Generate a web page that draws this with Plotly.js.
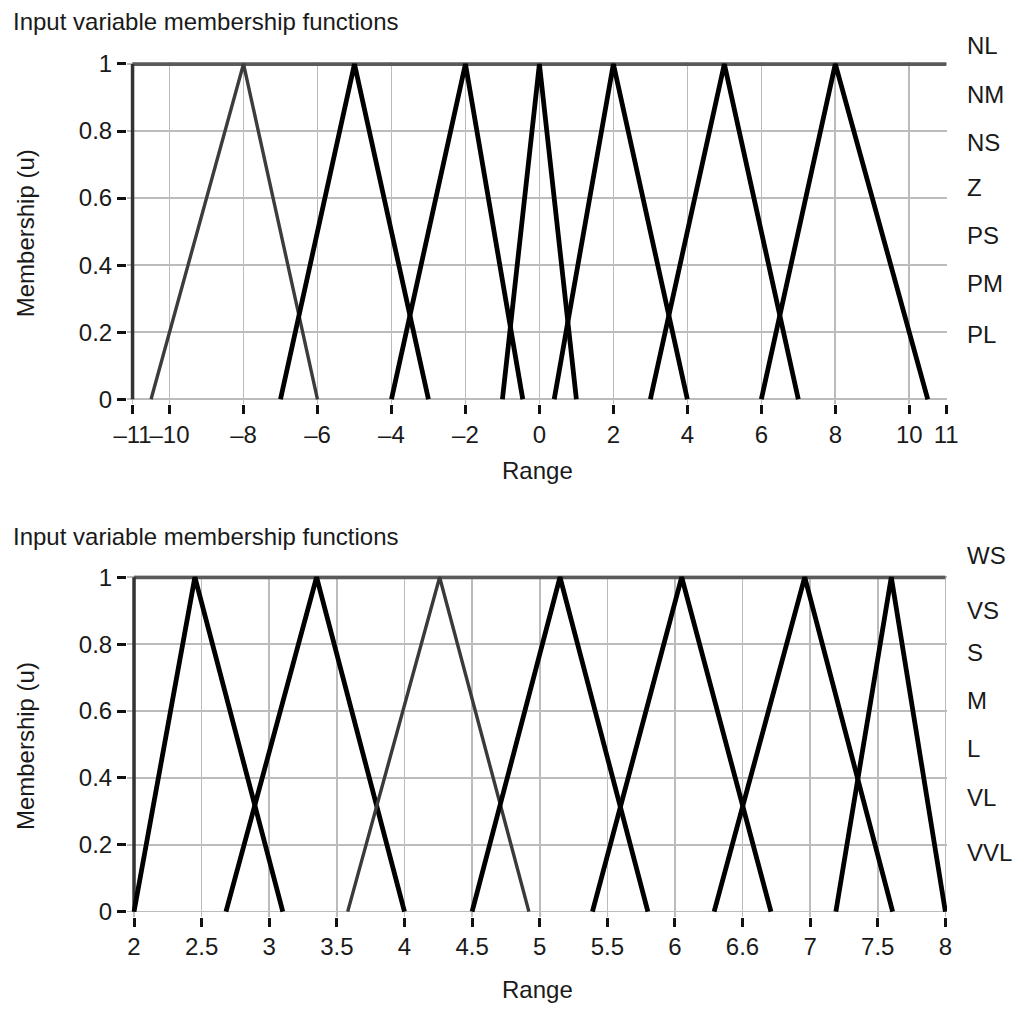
<!DOCTYPE html>
<html>
<head>
<meta charset="utf-8">
<script src="https://cdn.plot.ly/plotly-3.0.1.min.js"></script>
<style>html,body{margin:0;padding:0;background:#fff;}#chart{width:1020px;height:1011px;}</style>
</head>
<body>
<div id="chart"></div>
<script>
// ---------- DATA ----------
// Top chart: triangular membership functions (left foot, peak, right foot)
const topNames = ['NL', 'NM', 'NS', 'Z', 'PS', 'PM', 'PL'];
const topLeft  = [-10.5, -7, -4, -1, 0.4, 3, 6];
const topPeak  = [-8, -5, -2, 0, 2, 5, 8];
const topRight = [-6, -3, -0.45, 1, 4, 7, 10.5];
const topDomain = [-11, 11];
const topTickVals = [-11, -10, -8, -6, -4, -2, 0, 2, 4, 6, 8, 10, 11];
const topTickText = ['\u201311', '\u201310', '\u20138', '\u20136', '\u20134', '\u20132', '0', '2', '4', '6', '8', '10', '11'];

// Bottom chart
const botNames = ['WS', 'VS', 'S', 'M', 'L', 'VL', 'VVL'];
const botLeft  = [2.0, 2.68, 3.58, 4.5, 5.39, 6.29, 7.19];
const botPeak  = [2.45, 3.35, 4.26, 5.15, 6.05, 6.96, 7.6];
const botRight = [3.1, 4.0, 4.92, 5.8, 6.71, 7.61, 8.0];
const botDomain = [2, 8];
const botTickVals = [2, 2.5, 3, 3.5, 4, 4.5, 5, 5.5, 6, 6.5, 7, 7.5, 8];
const botTickText = ['2', '2.5', '3', '3.5', '4', '4.5', '5', '5.5', '6', '6.6', '7', '7.5', '8'];

const yTickVals = [0, 0.2, 0.4, 0.6, 0.8, 1];
const yTickText = ['0', '0.2', '0.4', '0.6', '0.8', '1'];

const chartTitle = 'Input variable membership functions';
const xTitle = 'Range';
const yTitle = 'Membership (u)';

// ---------- STYLE ----------
const FONT = 'Liberation Sans, Arial, Helvetica, sans-serif';
const TXT = '#1a1a1a';
const H = 1011;
const topStyle = [
  {color: '#3c3c3c', width: 3.4}, {color: '#000', width: 4.8}, {color: '#000', width: 4.8},
  {color: '#000', width: 4.8}, {color: '#000', width: 4.8}, {color: '#000', width: 4.8}, {color: '#000', width: 4.8}
];
const botStyle = [
  {color: '#000', width: 4.8}, {color: '#000', width: 4.8}, {color: '#3a3a3a', width: 3.4},
  {color: '#000', width: 4.8}, {color: '#000', width: 4.8}, {color: '#000', width: 4.8}, {color: '#000', width: 4.8}
];
// label vertical positions (pixels from top) for the right-side names
const topLabelPx = [46, 95, 142, 187, 235, 283, 335];
const botLabelPx = [555, 610, 652, 700, 748, 797, 852];

const traces = [];
function addFrame(dom, xa, ya) {
  traces.push({x: [dom[0], dom[1]], y: [1, 1], xaxis: xa, yaxis: ya, mode: 'lines',
    line: {color: '#5a5a5a', width: 4}, hoverinfo: 'skip', showlegend: false});
  traces.push({x: [dom[0], dom[0]], y: [0, 1], xaxis: xa, yaxis: ya, mode: 'lines',
    line: {color: '#333', width: 3.5}, hoverinfo: 'skip', showlegend: false});
}
function addSet(names, L, P, R, styles, xa, ya) {
  names.forEach((n, i) => {
    traces.push({x: [L[i], P[i], R[i]], y: [0, 1, 0], name: n, xaxis: xa, yaxis: ya,
      mode: 'lines', line: styles[i], showlegend: false});
  });
}
addFrame(topDomain, 'x', 'y');
addSet(topNames, topLeft, topPeak, topRight, topStyle, 'x', 'y');
addFrame(botDomain, 'x2', 'y2');
addSet(botNames, botLeft, botPeak, botRight, botStyle, 'x2', 'y2');

const gridCol = '#bcbcbc';
function xAxis(range, vals, text, anchor) {
  return {range: range, anchor: anchor, domain: [0, 1], tickmode: 'array', tickvals: vals, ticktext: text,
    tickangle: 0,
    showgrid: true, gridcolor: gridCol, gridwidth: 1.6, zeroline: false, showline: false,
    ticks: 'outside', ticklen: 9, tickwidth: 3, tickcolor: '#111',
    tickfont: {family: FONT, size: 24, color: TXT}, automargin: false, fixedrange: true};
}
function yAxis(domain, anchor) {
  return {range: [-0.015, 1.005], domain: domain, anchor: anchor, tickmode: 'array',
    tickvals: yTickVals, ticktext: yTickText,
    showgrid: true, gridcolor: gridCol, gridwidth: 1.6, zeroline: false, showline: false,
    ticks: 'outside', ticklen: 9, tickwidth: 3, tickcolor: '#111',
    tickfont: {family: FONT, size: 24, color: TXT}, automargin: false, fixedrange: true};
}

const annotations = [];
function addAnn(text, x, y, xref, yref, xanchor, extra) {
  annotations.push(Object.assign({text: text, x: x, y: y, xref: xref, yref: yref,
    xanchor: xanchor, yanchor: 'middle', showarrow: false,
    font: {family: FONT, size: 24, color: TXT}}, extra || {}));
}
// titles
addAnn(chartTitle, -0.142, 0.979, 'paper', 'paper', 'left');
addAnn(chartTitle, -0.142, 0.469, 'paper', 'paper', 'left');
// axis titles
addAnn(xTitle, 0.5, 0.535, 'paper', 'paper', 'center');
addAnn(xTitle, 0.5, 0.021, 'paper', 'paper', 'center');
addAnn(yTitle, -0.1244, 0.5, 'paper', 'y domain', 'center', {textangle: -90});
addAnn(yTitle, -0.1244, 0.5, 'paper', 'y2 domain', 'center', {textangle: -90});
// right-side names
topNames.forEach((n, i) => addAnn(n, 1.022, 1 - topLabelPx[i] / H, 'paper', 'paper', 'left'));
botNames.forEach((n, i) => addAnn(n, 1.022, 1 - botLabelPx[i] / H, 'paper', 'paper', 'left'));

const layout = {
  width: 1020, height: H,
  margin: {l: 127, r: 73, t: 0, b: 0, pad: 0},
  paper_bgcolor: '#fff', plot_bgcolor: '#fff',
  showlegend: false,
  font: {family: FONT, size: 24, color: TXT},
  xaxis: xAxis([-11.15, 11.02], topTickVals, topTickText, 'y'),
  yaxis: yAxis([0.6001, 0.9384], 'x'),
  xaxis2: xAxis([1.948, 8.012], botTickVals, botTickText, 'y2'),
  yaxis2: yAxis([0.0933, 0.4307], 'x2'),
  annotations: annotations
};

Plotly.newPlot('chart', traces, layout, {displayModeBar: false, staticPlot: true});
</script>
</body>
</html>
